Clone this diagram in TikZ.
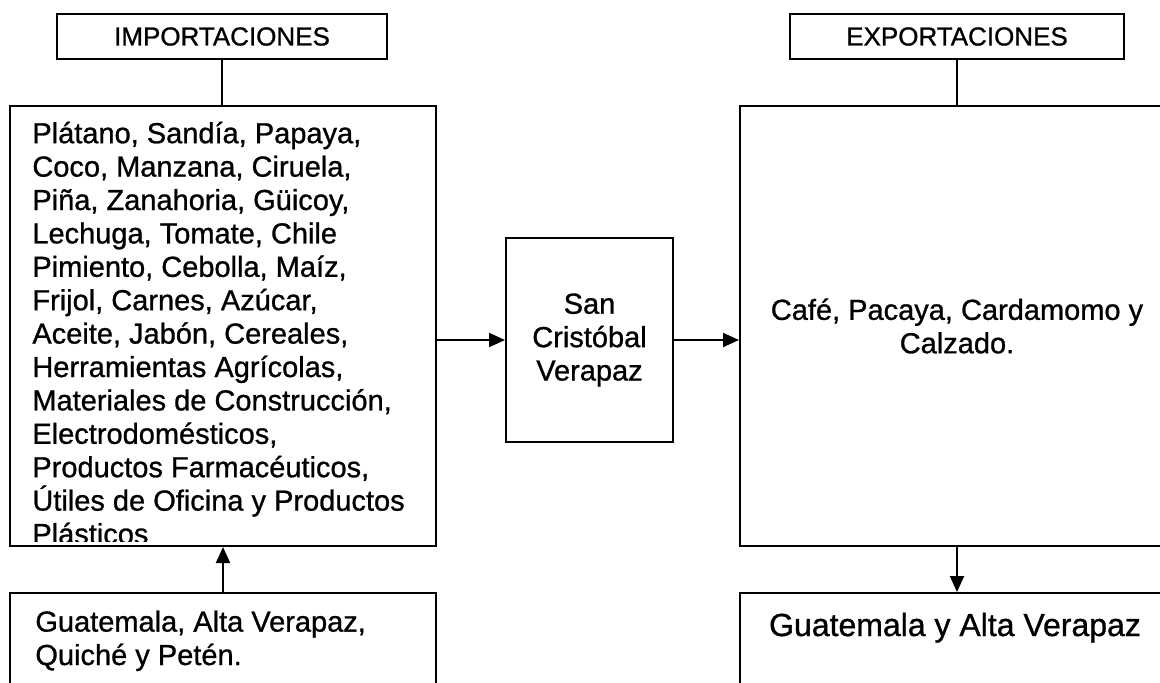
\documentclass[tikz,border=0pt]{standalone}
\usepackage{fontspec}
\setmainfont{Liberation Sans}[FakeBold=0.9]
\usepackage{tikz}
\usetikzlibrary{arrows.meta,positioning}

\begin{document}
\begin{tikzpicture}[x=0.5pt,y=-0.5pt,
  caja/.style={draw,line width=1pt,inner sep=0pt},
  flecha/.style={-{Triangle[length=8pt,width=7pt]},line width=1pt},
  linea/.style={line width=1pt},
  texto/.style={font=\fontsize{14.5}{16.7}\selectfont},
  titulo/.style={font=\fontsize{13}{15}\selectfont}]
  \useasboundingbox (0,0) rectangle (1160,682);
  \clip (0,0) rectangle (1160,682);
  % encabezados
  \node[caja,titulo,minimum width=165pt,minimum height=22.5pt] (tImp) at (222,36.5) {IMPORTACIONES};
  \node[caja,titulo,minimum width=167pt,minimum height=22.5pt] (tExp) at (957,36.5) {EXPORTACIONES};
  % cajas principales
  \node[caja,minimum width=213pt,minimum height=220pt] (izq) at (223,326) {};
  \node[caja,texto,minimum width=217pt,minimum height=220pt,align=center] (der) at (957,326) {Café, Pacaya, Cardamomo y\\Calzado.};
  \node[caja,texto,minimum width=83.5pt,minimum height=102pt,align=center] (scv) at (589.5,340) {San\\Cristóbal\\Verapaz};
  % cajas de origen y destino
  \node[caja,minimum width=213pt,minimum height=100pt] (origen) at (223,693) {};
  \node[caja,minimum width=217pt,minimum height=100pt] (destino) at (957,693) {};
  \node[texto,inner sep=0pt,anchor=base west,align=left] (tOrigen) at (35,665) {Guatemala, Alta Verapaz,\\Quiché y Petén.};
  \node[font=\fontsize{16}{19}\selectfont,anchor=base] (tDestino) at (955,636) {Guatemala y Alta Verapaz};
  % lista de productos, recortada por la caja
  \begin{scope}
    \clip (izq.north west) rectangle ([yshift=3pt]izq.south east);
    \node[texto,inner sep=0pt,anchor=base west,align=left] (lista) at (32,544) {Plátano, Sandía, Papaya,\\
      Coco, Manzana, Ciruela,\\
      Piña, Zanahoria, Güicoy,\\
      Lechuga, Tomate, Chile\\
      Pimiento, Cebolla, Maíz,\\
      Frijol, Carnes, Azúcar,\\
      Aceite, Jabón, Cereales,\\
      Herramientas Agrícolas,\\
      Materiales de Construcción,\\
      Electrodomésticos,\\
      Productos Farmacéuticos,\\
      Útiles de Oficina y Productos\\
      Plásticos};
  \end{scope}
  % conectores
  \draw[linea] (tImp.south) -- (tImp.south |- izq.north);
  \draw[linea] (tExp.south) -- (tExp.south |- der.north);
  \draw[flecha] (origen.north) -- (izq.south);
  \draw[flecha] (der.south) -- (destino.north);
  \draw[flecha] (izq.east |- scv.west) -- (scv.west);
  \draw[flecha] (scv.east) -- (der.west |- scv.east);
\end{tikzpicture}
\end{document}
